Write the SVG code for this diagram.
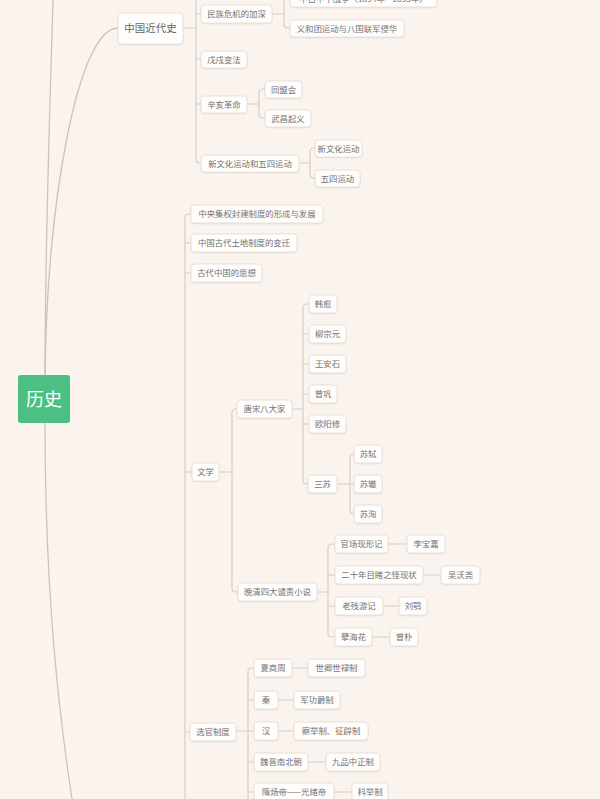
<svg xmlns="http://www.w3.org/2000/svg" width="600" height="799" viewBox="0 0 600 799">
<defs>
<filter id="sh" x="-10%" y="-20%" width="120%" height="150%">
<feDropShadow dx="0" dy="0.6" stdDeviation="0.7" flood-color="#b8aea4" flood-opacity="0.35"/>
</filter>
</defs>
<style>
.n rect{fill:#fffdfb;stroke:#e9e2db;stroke-width:1;filter:url(#sh)}
.n text{font-family:"Noto Sans CJK SC","Noto Sans",sans-serif;font-size:8.4px;fill:#727272;text-anchor:middle}
.l1 text{font-size:10.5px;fill:#666}
.root rect{fill:#4cbf82;stroke:none}
.root text{font-family:"Noto Sans CJK SC",sans-serif;font-size:18px;fill:#ffffff;text-anchor:middle}
.c path{fill:none;stroke:#d6cec6;stroke-width:1.2}
.c .m{stroke:#c9c3bd;stroke-width:1.3}
</style>
<rect width="600" height="799" fill="#fbf4ee"/>
<g class="c" id="connectors">
<path class="m" d="M45,375 C45,250 50,100 53,0"/>
<path class="m" d="M45,378 C47,200 78,28 118,28"/>
<path class="m" d="M45,423 C45,600 60,720 72,799"/>
<path d="M183,28 L196,28 M196,0 L196,159 Q196,163 200,163 L201,163 M196,14 L201,14 M196,59 L201,59 M196,104 L201,104"/>
<path d="M272,14 L284,14 M284,0 L284,24 Q284,28 288,28 L290,28"/>
<path d="M247,104 L259,104 M265,89 L263,89 Q259,89 259,93 L259,114 Q259,118 263,118 L265,118"/>
<path d="M299,163 L310,163 M315,148 L314,148 Q310,148 310,152 L310,174 Q310,178 314,178 L315,178"/>
<path d="M191,214 L189,214 Q185,214 185,218 L185,799 M185,243 L191,243 M185,273 L191,273 M185,472 L192,472 M185,732 L190,732"/>
<path d="M219,472 L232,472 M237,409 L236,409 Q232,409 232,413 L232,588 Q232,592 236,592 L238,592"/>
<path d="M292,409 L303,409 M309,304 L307,304 Q303,304 303,308 L303,480 Q303,484 307,484 L308,484 M303,334 L309,334 M303,364 L309,364 M303,394 L309,394 M303,424 L309,424"/>
<path d="M337,484 L354,484 M354,454 Q350,454 350,458 L350,510 Q350,514 354,514"/>
<path d="M317,592 L328,592 M335,544 L332,544 Q328,544 328,548 L328,633 Q328,637 332,637 L335,637 M328,575 L335,575 M328,606 L335,606"/>
<path d="M388,544 L407,544 M423,575 L441,575 M383,606 L399,606 M372,637 L390,637"/>
<path d="M236,731 L254,731 M254,668 L252,668 Q248,668 248,672 L248,799 M248,700 L254,700 M248,762 L254,762 M248,792 L254,792"/>
<path d="M292,668 L308,668 M278,700 L294,700 M278,731 L294,731 M308,762 L326,762 M334,792 L352,792"/>
</g>
<g class="root" id="n-root"><rect x="18" y="375" width="52" height="48" rx="3"/><text x="44" y="405.5">历史</text></g>
<g class="n l1" id="n-jindai"><rect x="118" y="13" width="65" height="31" rx="3"/><text x="150.5" y="32">中国近代史</text></g>
<g class="n" id="n-minzu"><rect x="201" y="5" width="71" height="18" rx="3"/><text x="236.5" y="17">民族危机的加深</text></g>
<g class="n" id="n-jiawu"><rect x="290" y="-11" width="147" height="18" rx="3"/><text x="363.5" y="1.5">中日甲午战争（1894年—1895年）</text></g>
<g class="n" id="n-yihetuan"><rect x="290" y="20" width="114" height="17" rx="3"/><text x="347" y="31.5">义和团运动与八国联军侵华</text></g>
<g class="n" id="n-wuxu"><rect x="201" y="51" width="46" height="17" rx="3"/><text x="224" y="62.5">戊戌变法</text></g>
<g class="n" id="n-xinhai"><rect x="201" y="96" width="46" height="17" rx="3"/><text x="224" y="107.5">辛亥革命</text></g>
<g class="n" id="n-tongmeng"><rect x="265" y="81" width="37" height="17" rx="3"/><text x="283.5" y="92.5">同盟会</text></g>
<g class="n" id="n-wuchang"><rect x="265" y="110" width="46" height="17" rx="3"/><text x="288" y="121.5">武昌起义</text></g>
<g class="n" id="n-xinwenhua54"><rect x="201" y="155" width="98" height="17" rx="3"/><text x="250" y="166.5">新文化运动和五四运动</text></g>
<g class="n" id="n-xinwenhua"><rect x="315" y="140" width="47" height="17" rx="3"/><text x="338.5" y="151.5">新文化运动</text></g>
<g class="n" id="n-wusi"><rect x="315" y="170" width="45" height="17" rx="3"/><text x="337.5" y="181.5">五四运动</text></g>
<g class="n" id="n-zhongyang"><rect x="191" y="205" width="132" height="18" rx="3"/><text x="257" y="217">中央集权封建制度的形成与发展</text></g>
<g class="n" id="n-tudi"><rect x="191" y="234" width="106" height="18" rx="3"/><text x="244" y="246">中国古代土地制度的变迁</text></g>
<g class="n" id="n-sixiang"><rect x="191" y="264" width="71" height="18" rx="3"/><text x="226.5" y="276">古代中国的思想</text></g>
<g class="n" id="n-wenxue"><rect x="192" y="463" width="27" height="18" rx="3"/><text x="205.5" y="475">文学</text></g>
<g class="n" id="n-tangsong"><rect x="237" y="400" width="55" height="18" rx="3"/><text x="264.5" y="412">唐宋八大家</text></g>
<g class="n" id="n-hanyu"><rect x="309" y="295" width="28" height="18" rx="3"/><text x="323" y="307">韩愈</text></g>
<g class="n" id="n-liu"><rect x="309" y="325" width="37" height="18" rx="3"/><text x="327.5" y="337">柳宗元</text></g>
<g class="n" id="n-wang"><rect x="309" y="355" width="37" height="18" rx="3"/><text x="327.5" y="367">王安石</text></g>
<g class="n" id="n-zeng"><rect x="309" y="385" width="28" height="18" rx="3"/><text x="323" y="397">曾巩</text></g>
<g class="n" id="n-ouyang"><rect x="309" y="415" width="37" height="18" rx="3"/><text x="327.5" y="427">欧阳修</text></g>
<g class="n" id="n-sansu"><rect x="308" y="475" width="29" height="18" rx="3"/><text x="322.5" y="487">三苏</text></g>
<g class="n" id="n-sushi"><rect x="354" y="445" width="28" height="18" rx="3"/><text x="368" y="457">苏轼</text></g>
<g class="n" id="n-suzhe"><rect x="354" y="475" width="28" height="18" rx="3"/><text x="368" y="487">苏辙</text></g>
<g class="n" id="n-suxun"><rect x="354" y="505" width="28" height="18" rx="3"/><text x="368" y="517">苏洵</text></g>
<g class="n" id="n-wanqing"><rect x="238" y="583" width="79" height="18" rx="3"/><text x="277.5" y="595">晚清四大谴责小说</text></g>
<g class="n" id="n-guanchang"><rect x="335" y="535" width="53" height="18" rx="3"/><text x="361.5" y="547">官场现形记</text></g>
<g class="n" id="n-libaojia"><rect x="407" y="535" width="38" height="18" rx="3"/><text x="426" y="547">李宝嘉</text></g>
<g class="n" id="n-ershinian"><rect x="335" y="566" width="88" height="18" rx="3"/><text x="379" y="578">二十年目睹之怪现状</text></g>
<g class="n" id="n-wuwoyao"><rect x="441" y="566" width="39" height="18" rx="3"/><text x="460.5" y="578">吴沃尧</text></g>
<g class="n" id="n-laocan"><rect x="335" y="597" width="48" height="18" rx="3"/><text x="359" y="609">老残游记</text></g>
<g class="n" id="n-liue"><rect x="399" y="597" width="28" height="18" rx="3"/><text x="413" y="609">刘鹗</text></g>
<g class="n" id="n-niehai"><rect x="335" y="628" width="37" height="18" rx="3"/><text x="353.5" y="640">孽海花</text></g>
<g class="n" id="n-zengpu"><rect x="390" y="628" width="28" height="18" rx="3"/><text x="404" y="640">曾朴</text></g>
<g class="n" id="n-xuanguan"><rect x="190" y="723" width="46" height="18" rx="3"/><text x="213" y="735">选官制度</text></g>
<g class="n" id="n-xiashang"><rect x="254" y="659" width="38" height="18" rx="3"/><text x="273" y="671">夏商周</text></g>
<g class="n" id="n-shiqing"><rect x="308" y="659" width="57" height="18" rx="3"/><text x="336.5" y="671">世卿世禄制</text></g>
<g class="n" id="n-qin"><rect x="254" y="691" width="24" height="18" rx="3"/><text x="266" y="703">秦</text></g>
<g class="n" id="n-jungong"><rect x="294" y="691" width="46" height="18" rx="3"/><text x="317" y="703">军功爵制</text></g>
<g class="n" id="n-han"><rect x="254" y="722" width="24" height="18" rx="3"/><text x="266" y="734">汉</text></g>
<g class="n" id="n-chaju"><rect x="294" y="722" width="74" height="18" rx="3"/><text x="331" y="734">察举制、征辟制</text></g>
<g class="n" id="n-weijin"><rect x="254" y="753" width="54" height="18" rx="3"/><text x="281" y="765">魏晋南北朝</text></g>
<g class="n" id="n-jiupin"><rect x="326" y="753" width="54" height="18" rx="3"/><text x="353" y="765">九品中正制</text></g>
<g class="n" id="n-suiyang"><rect x="254" y="783" width="80" height="18" rx="3"/><text x="294" y="795">隋炀帝——光绪帝</text></g>
<g class="n" id="n-keju"><rect x="352" y="783" width="36" height="18" rx="3"/><text x="370" y="795">科举制</text></g>
</svg>
